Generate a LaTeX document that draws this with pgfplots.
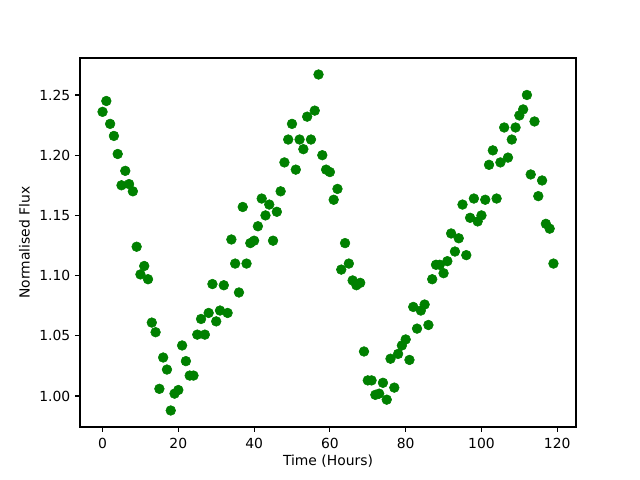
\documentclass[border=0pt]{standalone}
\usepackage{fontspec}
\setmainfont{DejaVu Sans}
\usepackage{pgfplots}
\pgfplotsset{compat=1.18}
\definecolor{mplgreen}{HTML}{008000}
\begin{document}
\fontsize{10pt}{12pt}\selectfont
\begin{tikzpicture}
\useasboundingbox (0,0) rectangle (460.8pt,345.6pt);
\begin{axis}[
  at={(57.6pt,38.16pt)}, anchor=south west,
  scale only axis, width=357.12pt, height=265.68pt,
  xmin=-5.95, xmax=124.95, ymin=0.9743, ymax=1.2807,
  xtick={0,20,40,60,80,100,120},
  ytick={1.00,1.05,1.10,1.15,1.20,1.25},
  yticklabel style={/pgf/number format/.cd, fixed, fixed zerofill, precision=2},
  /pgf/number format/assume math mode=true,
  tick align=outside, xtick pos=left, ytick pos=left,
  major tick length=3.5pt,
  every tick/.style={black, line width=0.8pt},
  axis line style={line width=0.8pt},
  tick label style={font=\fontsize{10pt}{12pt}\selectfont},
  label style={font=\fontsize{10pt}{12pt}\selectfont},
  xlabel={Time (Hours)}, ylabel={Normalised Flux},
  xticklabel style={yshift=-1pt},
  xlabel style={yshift=2pt},
]
\addplot[only marks, mark=*, mark size=3.5pt, color=mplgreen] coordinates {
(0,1.236) (1,1.245) (2,1.226) (3,1.216) (4,1.201) (5,1.175) (6,1.187) (7,1.176) (8,1.170) (9,1.124)
(10,1.101) (11,1.108) (12,1.097) (13,1.061) (14,1.053) (15,1.006) (16,1.032) (17,1.022) (18,0.988) (19,1.002)
(20,1.005) (21,1.042) (22,1.029) (23,1.017) (24,1.017) (25,1.051) (26,1.064) (27,1.051) (28,1.069) (29,1.093)
(30,1.062) (31,1.071) (32,1.092) (33,1.069) (34,1.130) (35,1.110) (36,1.086) (37,1.157) (38,1.110) (39,1.127)
(40,1.129) (41,1.141) (42,1.164) (43,1.150) (44,1.159) (45,1.129) (46,1.153) (47,1.170) (48,1.194) (49,1.213)
(50,1.226) (51,1.188) (52,1.213) (53,1.205) (54,1.232) (55,1.213) (56,1.237) (57,1.267) (58,1.200) (59,1.188)
(60,1.186) (61,1.163) (62,1.172) (63,1.105) (64,1.127) (65,1.110) (66,1.096) (67,1.092) (68,1.094) (69,1.037)
(70,1.013) (71,1.013) (72,1.001) (73,1.002) (74,1.011) (75,0.997) (76,1.031) (77,1.007) (78,1.035) (79,1.042)
(80,1.047) (81,1.030) (82,1.074) (83,1.056) (84,1.071) (85,1.076) (86,1.059) (87,1.097) (88,1.109) (89,1.109)
(90,1.102) (91,1.112) (92,1.135) (93,1.120) (94,1.131) (95,1.159) (96,1.117) (97,1.148) (98,1.164) (99,1.145)
(100,1.150) (101,1.163) (102,1.192) (103,1.204) (104,1.164) (105,1.194) (106,1.223) (107,1.198) (108,1.213) (109,1.223)
(110,1.233) (111,1.238) (112,1.250) (113,1.184) (114,1.228) (115,1.166) (116,1.179) (117,1.143) (118,1.139) (119,1.110)
};
\end{axis}
\end{tikzpicture}
\end{document}
